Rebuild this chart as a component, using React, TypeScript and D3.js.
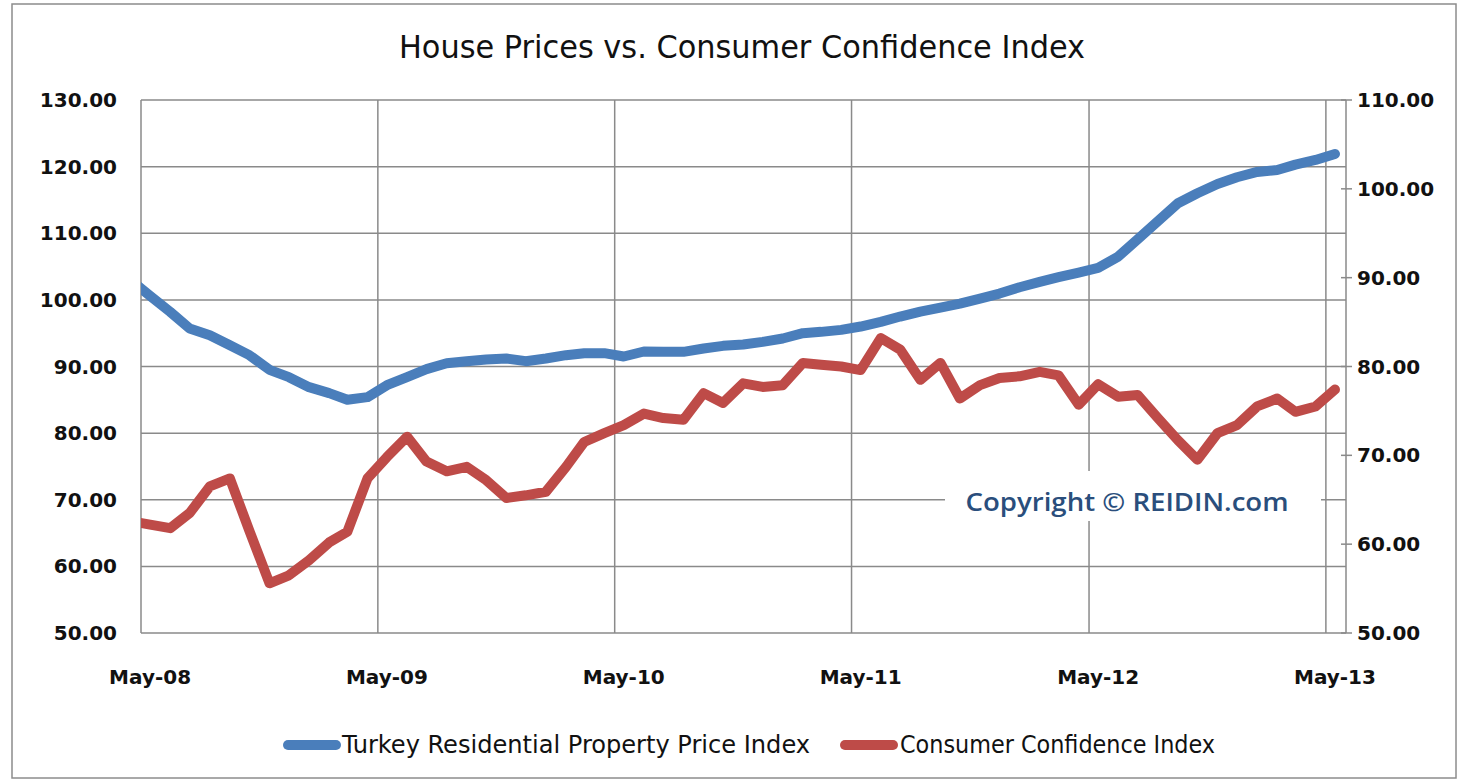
import React from "react";
import * as d3 from "d3";

const months = [
  "Apr-08","May-08","Jun-08","Jul-08","Aug-08","Sep-08","Oct-08","Nov-08","Dec-08",
  "Jan-09","Feb-09","Mar-09","Apr-09","May-09","Jun-09","Jul-09","Aug-09","Sep-09","Oct-09","Nov-09","Dec-09",
  "Jan-10","Feb-10","Mar-10","Apr-10","May-10","Jun-10","Jul-10","Aug-10","Sep-10","Oct-10","Nov-10","Dec-10",
  "Jan-11","Feb-11","Mar-11","Apr-11","May-11","Jun-11","Jul-11","Aug-11","Sep-11","Oct-11","Nov-11","Dec-11",
  "Jan-12","Feb-12","Mar-12","Apr-12","May-12","Jun-12","Jul-12","Aug-12","Sep-12","Oct-12","Nov-12","Dec-12",
  "Jan-13","Feb-13","Mar-13","Apr-13","May-13",
];

// Turkey Residential Property Price Index (left axis)
const priceIndex = [
  103.0,
  100.6, 98.2, 95.7, 94.7, 93.2, 91.7, 89.5, 88.4, 86.9,
  86.0, 85.0, 85.4, 87.2, 88.4, 89.6, 90.5, 90.8, 91.05, 91.2, 90.8,
  91.2, 91.7, 92.0, 92.0, 91.5, 92.25, 92.2, 92.2, 92.7, 93.1, 93.3, 93.7,
  94.2, 95.0, 95.2, 95.5, 96.0, 96.7, 97.5, 98.25, 98.85, 99.45, 100.2, 100.95,
  101.9, 102.7, 103.4, 104.1, 104.8, 106.5, 109.1, 111.8, 114.5, 116.0, 117.4, 118.4,
  119.2, 119.5, 120.3, 121.0, 121.9,
];

// Consumer Confidence Index (right axis)
const confidenceIndex = [
  62.6,
  62.2, 61.8, 63.5, 66.5, 67.4, 61.5, 55.6, 56.5, 58.2,
  60.2, 61.4, 67.4, 69.8, 72.1, 69.3, 68.2, 68.7, 67.2, 65.2, 65.5,
  65.9, 68.7, 71.5, 72.5, 73.4, 74.7, 74.2, 74.0, 77.0, 75.9, 78.1, 77.7,
  77.9, 80.4, 80.2, 80.0, 79.6, 83.2, 81.9, 78.5, 80.4, 76.4, 77.9, 78.7,
  78.9, 79.4, 79.0, 75.7, 78.0, 76.6, 76.8, 74.2, 71.7, 69.5, 72.5, 73.4,
  75.5, 76.4, 74.9, 75.5, 77.4,
];

const yearTicks = ["May-08", "May-09", "May-10", "May-11", "May-12", "May-13"];
const leftTicks = [50, 60, 70, 80, 90, 100, 110, 120, 130];
const rightTicks = [50, 60, 70, 80, 90, 100, 110];

const TITLE = "House Prices vs. Consumer Confidence Index";
const SERIES_NAMES = ["Turkey Residential Property Price Index", "Consumer Confidence Index"];
const COLORS = ["#4a7ebb", "#be4b48"];

const parseMonth = (s: string, day: number) => {
  const p = d3.timeParse("%b-%y")(s)!;
  return new Date(p.getFullYear(), p.getMonth(), day);
};

export default function App() {
  const W = 1466, H = 783;
  const left = 141, right = 1346, top = 100, bottom = 633;

  const x = d3.scaleTime()
    .domain([new Date(2008, 4, 1), new Date(2013, 5, 1)])
    .range([left, right]);
  const yL = d3.scaleLinear().domain([50, 130]).range([bottom, top]);
  const yR = d3.scaleLinear().domain([50, 110]).range([bottom, top]);

  const dates = months.map((m) => parseMonth(m, 15));
  const lineL = d3.line<number>().x((_, i) => x(dates[i])).y((d) => yL(d));
  const lineR = d3.line<number>().x((_, i) => x(dates[i])).y((d) => yR(d));

  const grid = "#8a8a8a";
  const tickFont = "'DejaVu Sans', Verdana, sans-serif";
  const narrow = "'Liberation Sans Narrow', 'DejaVu Sans Condensed', 'Arial Narrow', sans-serif";

  return (
    <svg width={W} height={H} style={{ position: "absolute", left: 0, top: 0, background: "#fff" }}>
      <defs>
        <clipPath id="plotclip">
          <rect x={left} y={0} width={right - left} height={H} />
        </clipPath>
      </defs>
      <rect x={12} y={4} width={1444} height={774} fill="#fff" stroke="#8c8c8c" strokeWidth={1.5} />

      <text x={742} y={58} textAnchor="middle" fontFamily={narrow} fontSize={32}
        textLength={686} lengthAdjust="spacingAndGlyphs" fill="#111">{TITLE}</text>

      {/* horizontal gridlines */}
      {leftTicks.map((t) => (
        <line key={"h" + t} x1={left} x2={right} y1={yL(t)} y2={yL(t)} stroke={grid} strokeWidth={1.5} />
      ))}
      {/* vertical gridlines */}
      {yearTicks.map((t) => {
        const xx = x(parseMonth(t, 1));
        return <line key={"v" + t} x1={xx} x2={xx} y1={top} y2={bottom} stroke={grid} strokeWidth={1.5} />;
      })}
      {/* right axis */}
      <line x1={right} x2={right} y1={top} y2={bottom} stroke={grid} strokeWidth={1.5} />
      {rightTicks.map((t) => (
        <line key={"rt" + t} x1={right - 5} x2={right + 6} y1={yR(t)} y2={yR(t)} stroke={grid} strokeWidth={1.5} />
      ))}

      {/* copyright box */}
      <rect x={945} y={471} width={376} height={50} fill="#fff" />
      <text x={1127} y={511} textAnchor="middle" fontFamily="'Open Sans', sans-serif" fontWeight={600}
        fontSize={26} fill="#2a4e7c" textLength={323} lengthAdjust="spacingAndGlyphs">Copyright © REIDIN.com</text>

      {/* series */}
      <g clipPath="url(#plotclip)">
        <path d={lineL(priceIndex) || ""} fill="none" stroke={COLORS[0]} strokeWidth={10}
          strokeLinejoin="round" strokeLinecap="round" />
        <path d={lineR(confidenceIndex) || ""} fill="none" stroke={COLORS[1]} strokeWidth={10}
          strokeLinejoin="round" strokeLinecap="round" />
      </g>

      {/* left axis labels */}
      {leftTicks.map((t) => (
        <text key={"lt" + t} x={117} y={yL(t) + 7} textAnchor="end" fontFamily={tickFont}
          fontWeight="bold" fontSize={20} fill="#111">{t.toFixed(2)}</text>
      ))}
      {/* right axis labels */}
      {rightTicks.map((t) => (
        <text key={"rl" + t} x={1357} y={yR(t) + 7} textAnchor="start" fontFamily={tickFont}
          fontWeight="bold" fontSize={20} fill="#111">{t.toFixed(2)}</text>
      ))}
      {/* x labels */}
      {yearTicks.map((t) => (
        <text key={"xl" + t} x={x(parseMonth(t, 15))} y={684} textAnchor="middle" fontFamily={tickFont}
          fontWeight="bold" fontSize={20} fill="#111">{t}</text>
      ))}

      {/* legend */}
      <line x1={288} x2={336} y1={745} y2={745} stroke={COLORS[0]} strokeWidth={10} strokeLinecap="round" />
      <text x={342} y={753} fontFamily={narrow} fontSize={24} fill="#111"
        textLength={468} lengthAdjust="spacingAndGlyphs">{SERIES_NAMES[0]}</text>
      <line x1={845} x2={893} y1={745} y2={745} stroke={COLORS[1]} strokeWidth={10} strokeLinecap="round" />
      <text x={900} y={753} fontFamily={narrow} fontSize={24} fill="#111"
        textLength={315} lengthAdjust="spacingAndGlyphs">{SERIES_NAMES[1]}</text>
    </svg>
  );
}
